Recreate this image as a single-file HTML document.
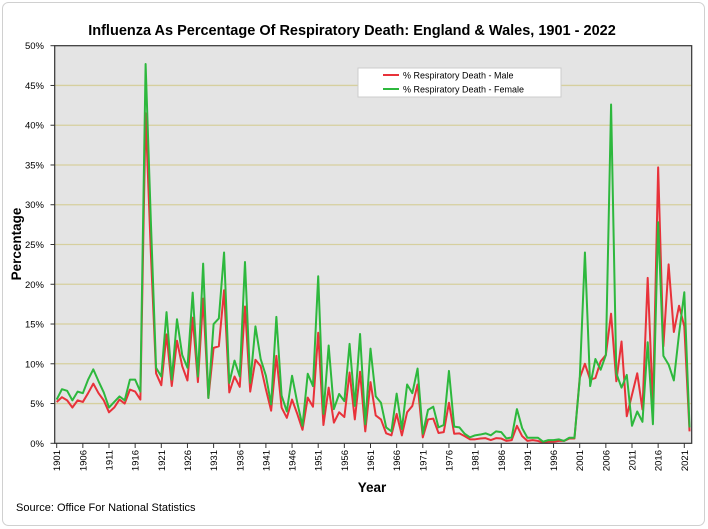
<!DOCTYPE html>
<html><head><meta charset="utf-8"><style>
html,body{margin:0;padding:0;background:#fff;}
#wrap{position:relative;width:708px;height:529px;overflow:hidden;font-family:"Liberation Sans",Arial,sans-serif;}
</style></head><body>
<div id="wrap">
<svg id="chart" width="708" height="529" xmlns="http://www.w3.org/2000/svg">
<rect x="2.5" y="2.5" width="702" height="523" rx="6" fill="#fff" stroke="#d0d0d0"/>
<text x="352" y="35" text-anchor="middle" font-size="14.5" font-weight="bold" fill="#000">Influenza As Percentage Of Respiratory Death: England &amp; Wales, 1901 - 2022</text>
<rect x="54.7" y="45.7" width="637" height="397.6" fill="#e4e4e4"/>
<g id="grid"></g>
<g id="yticks"></g>
<g id="xticks"></g>
<g id="series"></g>
<rect x="54.7" y="45.7" width="637" height="397.6" fill="none" stroke="#333" stroke-width="1.2"/>
<g>
<rect x="358" y="68" width="203" height="29" fill="#fff" stroke="#ccc"/>
<line x1="383" y1="75" x2="399" y2="75" stroke="#e8323a" stroke-width="2"/>
<text x="403" y="78.5" font-size="9" fill="#000">% Respiratory Death - Male</text>
<line x1="383" y1="89" x2="399" y2="89" stroke="#2db83d" stroke-width="2"/>
<text x="403" y="92.5" font-size="9" fill="#000">% Respiratory Death - Female</text>
</g>
<text transform="translate(21,244) rotate(-90)" text-anchor="middle" font-size="13.5" font-weight="bold">Percentage</text>
<text x="372" y="492" text-anchor="middle" font-size="13.5" font-weight="bold">Year</text>
<text x="16" y="511" font-size="11" fill="#000">Source: Office For National Statistics</text>
</svg>
</div>
<script>
const startYear = 1901;
const yTicks = [0,5,10,15,20,25,30,35,40,45,50];
const xTickYears = [1901,1906,1911,1916,1921,1926,1931,1936,1941,1946,1951,1956,1961,1966,1971,1976,1981,1986,1991,1996,2001,2006,2011,2016,2021];
const maleValues = [5.2,5.8,5.4,4.5,5.4,5.2,6.3,7.5,6.3,5.4,3.9,4.5,5.5,5.0,6.75,6.5,5.5,41.5,24,8.8,7.3,13.7,7.2,12.9,9.7,7.9,15.8,7.7,18.2,5.7,12.0,12.2,19.25,6.4,8.4,7.1,17.2,6.5,10.5,9.7,6.8,4.1,11.0,4.5,3.2,5.5,3.7,1.7,5.75,4.6,13.9,2.3,7.0,2.6,3.9,3.3,8.9,3.0,9.0,1.5,7.7,3.5,3.0,1.25,1.0,3.7,1.0,3.9,4.7,7.4,0.75,3.0,3.1,1.3,1.4,5.1,1.2,1.25,0.9,0.5,0.5,0.6,0.65,0.4,0.65,0.6,0.3,0.4,2.2,0.9,0.3,0.4,0.3,0.1,0.2,0.2,0.3,0.3,0.6,0.6,8.2,10.0,8.0,8.2,10.3,11.1,16.3,7.8,12.8,3.4,6.1,8.8,4.25,20.8,4.7,34.7,12.2,22.5,14.0,17.3,14.7,1.5];
const femaleValues = [5.5,6.8,6.6,5.4,6.5,6.3,8.0,9.3,7.8,6.4,4.5,5.2,5.9,5.4,8.0,8.0,6.5,47.7,28,9.5,8.4,16.5,8.0,15.6,11.1,9.5,18.95,8.4,22.6,5.7,15.0,15.7,24.0,7.6,10.4,8.4,22.8,7.6,14.7,10.6,8.5,4.9,15.9,6.0,4.0,8.5,5.1,2.2,8.75,7.2,21.0,3.7,12.3,4.3,6.2,5.3,12.5,4.7,13.75,2.4,11.9,5.9,5.1,2.0,1.5,6.25,1.8,7.4,6.3,9.4,1.2,4.2,4.6,2.0,2.3,9.1,2.1,2.0,1.2,0.75,1.0,1.1,1.25,1.0,1.5,1.4,0.6,0.75,4.3,1.9,0.7,0.7,0.7,0.2,0.4,0.4,0.5,0.3,0.7,0.7,8.0,24.0,7.2,10.6,9.25,11.1,42.6,8.8,7.0,8.6,2.2,4.0,2.7,12.7,2.4,27.8,11.0,9.9,7.9,13.8,19.0,2.0];

const NS='http://www.w3.org/2000/svg';
const X0=56.7, XSTEP=5.23, Y0=443.3, YTOP=45.7, VMAX=50;
function xScale(year){return X0+(year-startYear)*XSTEP;}
function yScale(v){return Y0-(v/VMAX)*(Y0-YTOP);}
function mk(tag,attrs){const e=document.createElementNS(NS,tag);for(const k in attrs)e.setAttribute(k,attrs[k]);return e;}

const grid=document.getElementById('grid'), yt=document.getElementById('yticks'), xt=document.getElementById('xticks'), ser=document.getElementById('series');
yTicks.forEach(v=>{
  const y=yScale(v);
  if(v>0&&v<50){
    const g=mk('line',{x1:54.7,x2:691.7,y1:y,y2:y,stroke:'#d6cf9e','stroke-width':1.3});
    
    
    grid.appendChild(g);
  }
  const t=mk('line',{x1:50.5,x2:54.7,y1:y,y2:y,stroke:'#333'});
  
  
  yt.appendChild(t);
  const l=mk('text',{x:44,y:y+3.5,'text-anchor':'end','font-size':9.5,fill:'#000'});
  l.textContent=v+'%';
  
  
  yt.appendChild(l);
});
xTickYears.forEach(yr=>{
  const x=xScale(yr);
  const t=mk('line',{x1:x,x2:x,y1:443.3,y2:448,stroke:'#333'});
  
  
  xt.appendChild(t);
  const l=mk('text',{transform:'translate('+(x+3.5)+',450) rotate(-90)','text-anchor':'end','font-size':9.5,fill:'#000'});
  l.textContent=yr;
  
  
  xt.appendChild(l);
});
function pts(arr){return arr.map((v,i)=>xScale(startYear+i).toFixed(2)+','+yScale(v).toFixed(2)).join(' ');}
const fem=mk('polyline',{points:pts(femaleValues),fill:'none',stroke:'#2db83d','stroke-width':2,'stroke-linejoin':'round'});


const mal=mk('polyline',{points:pts(maleValues),fill:'none',stroke:'#e8323a','stroke-width':2,'stroke-linejoin':'round'});


ser.appendChild(mal);
ser.appendChild(fem);
</script>
</body></html>
